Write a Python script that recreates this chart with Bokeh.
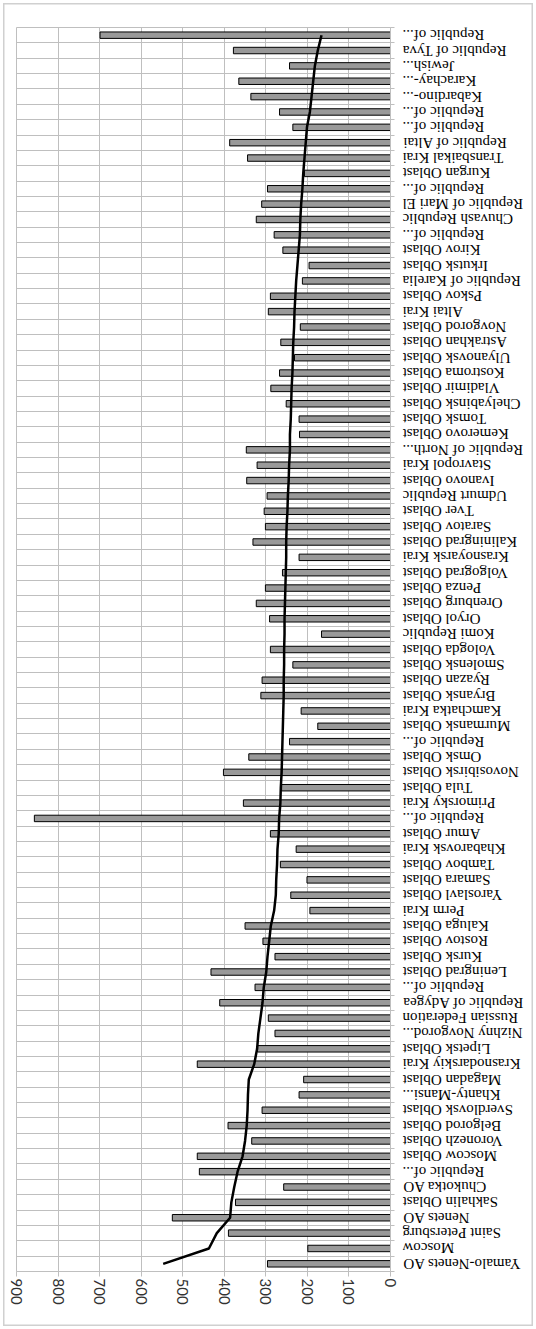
from bokeh.core.properties import value
from bokeh.embed import file_html
from bokeh.layouts import row
from bokeh.models import ColumnDataSource, FixedTicker, Range1d
from bokeh.plotting import figure
from bokeh.resources import INLINE

# Regions, first one drawn at the bottom of the chart
regions = [
    "Yamalo-Nenets AO", "Moscow", "Saint Petersburg", "Nenets AO", "Sakhalin Oblast",
    "Chukotka AO", "Republic of...", "Moscow Oblast", "Voronezh Oblast", "Belgorod Oblast",
    "Sverdlovsk Oblast", "Khanty-Mansi...", "Magadan Oblast", "Krasnodarskiy Krai",
    "Lipetsk Oblast", "Nizhny Novgorod...", "Russian Federation", "Republic of Adygea",
    "Republic of...", "Leningrad Oblast", "Kursk Oblast", "Rostov Oblast", "Kaluga Oblast",
    "Perm Krai", "Yaroslavl Oblast", "Samara Oblast", "Tambov Oblast", "Khabarovsk Krai",
    "Amur Oblast", "Republic of...", "Primorsky Krai", "Tula Oblast", "Novosibirsk Oblast",
    "Omsk Oblast", "Republic of...", "Murmansk Oblast", "Kamchatka Krai", "Bryansk Oblast",
    "Ryazan Oblast", "Smolensk Oblast", "Vologda Oblast", "Komi Republic", "Oryol Oblast",
    "Orenburg Oblast", "Penza Oblast", "Volgograd Oblast", "Krasnoyarsk Krai",
    "Kaliningrad Oblast", "Saratov Oblast", "Tver Oblast", "Udmurt Republic",
    "Ivanovo Oblast", "Stavropol Krai", "Republic of North...", "Kemerovo Oblast",
    "Tomsk Oblast", "Chelyabinsk Oblast", "Vladimir Oblast", "Kostroma Oblast",
    "Ulyanovsk Oblast", "Astrakhan Oblast", "Novgorod Oblast", "Altai Krai", "Pskov Oblast",
    "Republic of Karelia", "Irkutsk Oblast", "Kirov Oblast", "Republic of...",
    "Chuvash Republic", "Republic of Mari El", "Republic of...", "Kurgan Oblast",
    "Transbaikal Krai", "Republic of Altai", "Republic of...", "Republic of...",
    "Kabardino-...", "Karachay-...", "Jewish...", "Republic of Tyva", "Republic of...",
]

# Bar series
bar_values = [
    296, 199, 390, 525, 373, 257, 460, 465, 334, 391,
    309, 220, 209, 465, 320, 278, 294, 411, 326, 432,
    278, 307, 350, 194, 240, 201, 265, 227, 289, 857,
    354, 262, 402, 341, 243, 175, 215, 312, 309, 235,
    289, 166, 291, 323, 301, 260, 220, 331, 301, 304,
    297, 346, 321, 347, 219, 220, 251, 288, 267, 231,
    264, 217, 294, 289, 212, 196, 259, 280, 323, 310,
    296, 207, 344, 387, 235, 267, 336, 365, 243, 378,
    699,
]

# Line series
line_values = [
    547, 437, 418, 386, 383, 376, 368, 356, 350, 346,
    344, 343, 341, 328, 321, 318, 313, 308, 305, 299,
    296, 292, 288, 280, 276, 275, 273, 272, 269, 268,
    265, 264, 262, 261, 260, 259, 258, 257, 257, 256,
    256, 255, 255, 254, 253, 252, 251, 251, 250, 248,
    247, 245, 244, 242, 242, 240, 239, 238, 236, 235,
    234, 232, 231, 229, 227, 224, 221, 218, 217, 215,
    212, 210, 207, 204, 201, 194, 190, 186, 182, 175,
    166,
]

value_ticks = list(range(0, 1000, 100))

n = len(regions)
positions = list(range(n))
boundaries = [i - 0.5 for i in range(n + 1)]
source = ColumnDataSource(dict(pos=positions, bar=bar_values, line=line_values, name=regions))

GRID = "#bfbfbf"
TOP, BOTTOM = 27, 58
y_range = Range1d(-0.5, n - 0.5)

# main plot: bars, line, value axis and the category axis line with its ticks
p = figure(
    width=402, height=1329,
    output_backend="svg", toolbar_location=None,
    x_range=Range1d(900, 0), y_range=y_range,
    y_axis_location="right", x_axis_location="below",
    min_border_left=16, min_border_right=12, min_border_top=TOP, min_border_bottom=BOTTOM,
    background_fill_color="white", border_fill_color=None,
)
p.outline_line_color = GRID

p.xgrid.ticker = FixedTicker(ticks=value_ticks)
p.xgrid.grid_line_color = GRID
p.ygrid.ticker = FixedTicker(ticks=boundaries)
p.ygrid.grid_line_color = GRID

xa = p.xaxis[0]
xa.ticker = FixedTicker(ticks=value_ticks)
xa.major_label_orientation = "vertical"
xa.major_label_text_font = "Lato"
xa.major_label_text_font_size = "15px"
xa.major_label_text_color = "#333333"
xa.axis_line_color = GRID
xa.major_tick_line_color = GRID
xa.major_tick_in = 0
xa.major_tick_out = 5
xa.minor_tick_line_color = None
xa.major_label_standoff = 2

ya = p.yaxis[0]
ya.ticker = FixedTicker(ticks=[], minor_ticks=boundaries)
ya.axis_line_color = GRID
ya.major_tick_line_color = None
ya.major_tick_in = 0
ya.major_tick_out = 0
ya.minor_tick_line_color = GRID
ya.minor_tick_in = 0
ya.minor_tick_out = 4
ya.major_label_standoff = 0

p.hbar(y="pos", left=0, right="bar", height=0.42, source=source,
       fill_color="#999999", line_color="#000000", line_width=1)
p.line(x="line", y="pos", source=source, line_color="#000000", line_width=2.5)

# category labels, turned over, in a strip to the right of the plot
lab = figure(
    width=134, height=1329,
    output_backend="svg", toolbar_location=None,
    x_range=Range1d(0, 134), y_range=y_range,
    x_axis_location=None, y_axis_location=None,
    min_border_left=0, min_border_right=0, min_border_top=TOP, min_border_bottom=BOTTOM,
    background_fill_color=None, border_fill_color=None,
)
lab.outline_line_color = None
lab.grid.visible = False
lab.text(x=0, y="pos", text="name", source=source, angle=3.141592653589793,
         text_align="right", text_baseline="middle",
         text_font=value("Liberation Serif"), text_font_size="15px", text_color="#000000")

layout = row(p, lab, spacing=0, styles={
    "background-color": "white",
    "box-shadow": "inset 0 0 0 3px white, inset 0 0 0 4.5px #d0d0d0",
})

open("out.html", "w").write(file_html(layout, INLINE))
